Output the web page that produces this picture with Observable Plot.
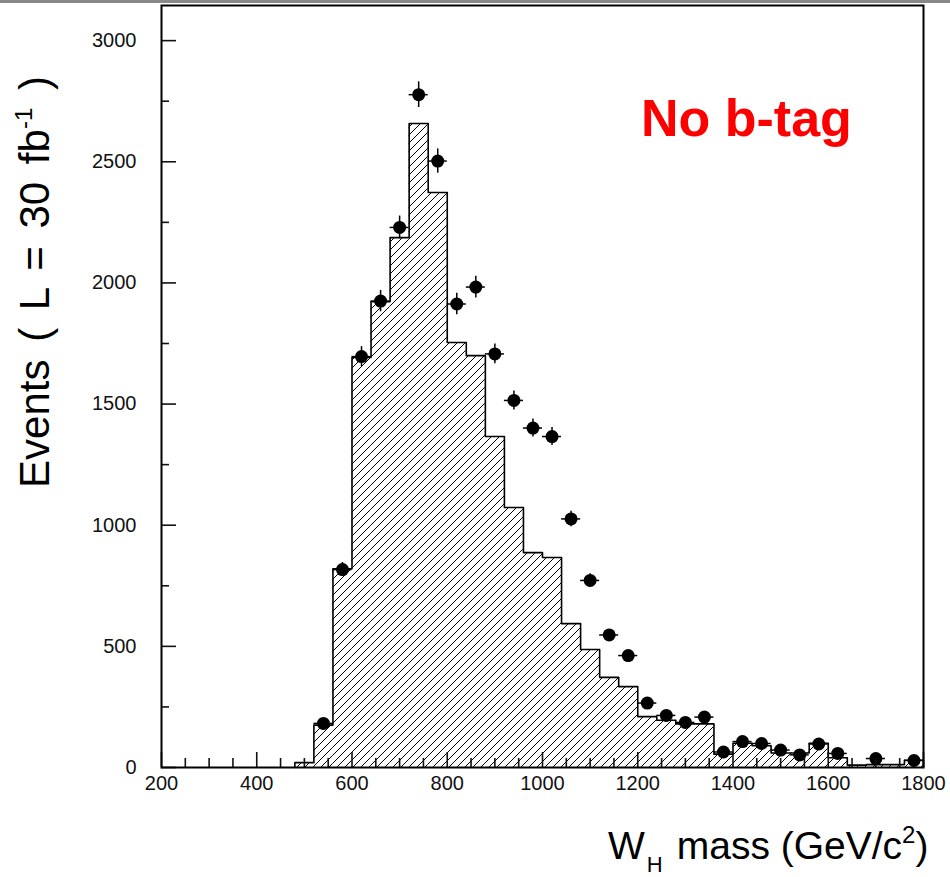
<!DOCTYPE html>
<html><head><meta charset="utf-8">
<script src="https://cdn.jsdelivr.net/npm/d3@7"></script>
<script src="https://cdn.jsdelivr.net/npm/@observablehq/plot@0.6"></script>
<style>body{margin:0;background:#fff} svg{display:block}</style>
</head><body><div id="chart"></div>
<script>
// Histogram (background), bin lower edges and contents
const binLow = [480,520,560,600,640,680,720,760,800,840,880,920,960,1000,1040,1080,1120,1160,1200,1240,1280,1320,1360,1400,1440,1480,1520,1560,1600,1640,1680,1720,1760];
const binCounts = [20,175,820,1692,1923,2187,2658,2373,1754,1700,1366,1073,887,867,594,487,372,334,210,195,180,180,55,100,90,60,60,100,40,10,12,12,30];
const binWidth = 40;
// Data points (signal + background)
const dataMass = [540,580,620,660,700,740,780,820,860,900,940,980,1020,1060,1100,1140,1180,1220,1260,1300,1340,1380,1420,1460,1500,1540,1580,1620,1700,1780];
const dataEvents = [182,817,1696,1925,2229,2777,2503,1913,1983,1707,1515,1401,1366,1026,772,547,462,266,215,186,208,64,107,99,72,52,97,58,37,29];
const dataErr = [13,29,41,44,47,53,50,44,45,41,39,37,37,32,28,23,21,16,15,14,14,8,10,10,8,7,10,8,6,5];
// Axis ticks
const xMajorTicks = [200,400,600,800,1000,1200,1400,1600,1800];
const xMinorTicks = [250,300,350,450,500,550,650,700,750,850,900,950,1050,1100,1150,1250,1300,1350,1450,1500,1550,1650,1700,1750];
const yMajorTicks = [0,500,1000,1500,2000,2500,3000];
const yMinorTicks = [250,750,1250,1750,2250,2750];

const bins = binLow.map((lo, i) => ({x1: lo, x2: lo + binWidth, y: binCounts[i]}));
const last = bins[bins.length - 1];
const outline = [{x: bins[0].x1, y: 0}, ...bins.map(b => ({x: b.x1, y: b.y})), {x: last.x2, y: last.y}, {x: last.x2, y: 0}];
const pts = dataMass.map((m, i) => ({m, v: dataEvents[i], e: dataErr[i]}));

const plot = Plot.plot({
  width: 950, height: 877,
  marginLeft: 161, marginRight: 27, marginTop: 5, marginBottom: 110,
  style: {fontFamily: "'Liberation Sans', Arial, sans-serif", fontSize: "20px", color: "#111", background: "white"},
  x: {domain: [200, 1800]},
  y: {domain: [0, 3145]},
  marks: [
    Plot.rectY(bins, {x1: "x1", x2: "x2", y: "y", fill: "url(#hatch)"}),
    Plot.line(outline, {x: "x", y: "y", curve: "step-after", stroke: "black", strokeWidth: 1.6}),
    Plot.ruleX(pts, {x: "m", y1: d => d.v - d.e, y2: d => d.v + d.e, stroke: "black", strokeWidth: 1.5}),
    Plot.ruleY(pts, {y: "v", x1: d => d.m - binWidth / 2, x2: d => d.m + binWidth / 2, stroke: "black", strokeWidth: 1.5}),
    Plot.dot(pts, {x: "m", y: "v", r: 6.5, fill: "black"}),
    Plot.axisX({ticks: xMajorTicks, tickSize: -15, tickPadding: 23, tickFormat: d => String(d), strokeWidth: 1.6, fontSize: 20, label: null}),
    Plot.axisX({ticks: xMinorTicks, tickSize: -9, text: null, strokeWidth: 1.6, label: null}),
    Plot.axisY({ticks: yMajorTicks, tickSize: -15, tickPadding: 40, tickFormat: d => String(d), strokeWidth: 1.6, fontSize: 20, label: null}),
    Plot.axisY({ticks: yMinorTicks, tickSize: -8, text: null, strokeWidth: 1.6, label: null}),
    Plot.frame({stroke: "black", strokeWidth: 2})
  ]
});

const svg = d3.select(plot);
svg.insert("defs", ":first-child").html(
  '<pattern id="hatch" patternUnits="userSpaceOnUse" width="8" height="8">' +
  '<path d="M-2,2 l4,-4 M0,8 l8,-8 M6,10 l4,-4" stroke="black" stroke-width="1"/></pattern>');

svg.append("line").attr("x1", 0).attr("x2", 950).attr("y1", 1.5).attr("y2", 1.5)
  .attr("stroke", "#888").attr("stroke-width", 3);

svg.append("text")
  .attr("transform", "translate(49,282) rotate(-90)")
  .attr("text-anchor", "middle")
  .style("font-size", "42px").style("word-spacing", "6px").attr("fill", "black")
  .html('Events ( L = 30 fb<tspan dy="-17" font-size="24">-1</tspan><tspan dy="17"> )</tspan>');

svg.append("text")
  .attr("x", 608).attr("y", 859)
  .attr("text-anchor", "start")
  .style("font-size", "39px").attr("fill", "black")
  .html('W<tspan dx="2" dy="13" font-size="22">H</tspan><tspan dx="14" dy="-13">mass (GeV/c</tspan><tspan dy="-16" font-size="24">2</tspan><tspan dy="16">)</tspan>');

svg.append("text")
  .attr("x", 641).attr("y", 136)
  .attr("text-anchor", "start")
  .style("font-size", "52px").style("font-weight", "bold").attr("fill", "#ff0000")
  .text("No b-tag");

document.getElementById("chart").appendChild(plot);
</script>
</body></html>
